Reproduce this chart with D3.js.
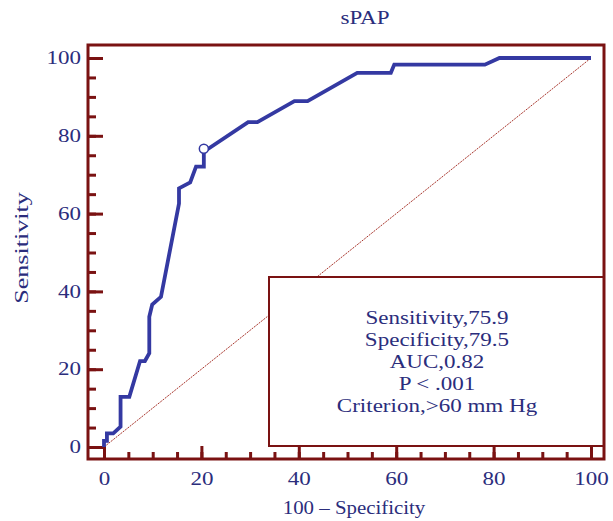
<!DOCTYPE html>
<html><head><meta charset="utf-8">
<script src="https://cdn.jsdelivr.net/npm/d3@7"></script>
<style>body{margin:0;background:#fff}</style>
</head><body><svg id="c" width="613" height="521"></svg>
<script>
// ROC curve points: 100 - Specificity (x), Sensitivity (y)
const fpr = [0, 0, 0.6, 0.6, 1.9, 3.4, 3.4, 5.2, 7.4, 8.4, 9.3, 9.3, 9.9, 11.7, 15.4, 15.4, 17.7, 18.9, 20.5, 20.5, 29.6, 31.5, 39.1, 41.8, 52, 58.9, 59.6, 78.2, 81.2, 100];
const tpr = [0, 1.6, 1.6, 3.5, 3.5, 5.2, 12.9, 12.9, 22.1, 22.1, 24.1, 33.5, 36.6, 38.6, 62.6, 66.5, 68, 72.1, 72.1, 75.9, 83.5, 83.5, 88.9, 88.9, 96.2, 96.2, 98.3, 98.3, 100, 100];
const cutX = [20.5];
const cutY = [75.9];
const xTicks = [0, 20, 40, 60, 80, 100];
const yTicks = [0, 20, 40, 60, 80, 100];
const legendLines = ["Sensitivity,75.9", "Specificity,79.5", "AUC,0.82", "P < .001", "Criterion,>60 mm Hg"];
const titleText = "sPAP";
const xLabel = "100 \u2013 Specificity";
const yLabel = "Sensitivity";

const frameCol = "#7a1212", textCol = "#2b2d7c", lineCol = "#3439a2";
const font = "'Liberation Serif','Times New Roman',serif";
const SX = 1.28;

const svg = d3.select("#c");
const x = d3.scaleLinear().domain([0, 100]).range([104, 591]);
const y = d3.scaleLinear().domain([0, 100]).range([447, 58]);

// title
svg.append("text").attr("transform", `translate(365,24) scale(${SX},1)`)
  .attr("text-anchor", "middle").attr("font-family", font).attr("font-size", 18)
  .attr("fill", textCol).text(titleText);

// diagonal
svg.append("line").attr("x1", x(0)).attr("y1", y(0)).attr("x2", x(100)).attr("y2", y(100))
  .attr("stroke", "#a8352c").attr("stroke-width", 1).attr("stroke-dasharray", "2,1");

// legend box
svg.append("rect").attr("x", 269).attr("y", 277).attr("width", 335).attr("height", 169)
  .attr("fill", "#fff").attr("stroke", frameCol).attr("stroke-width", 2);
const lg = svg.append("g");
legendLines.forEach((t, i) => {
  lg.append("text").attr("transform", `translate(437,${324 + i * 22}) scale(${SX},1)`)
    .attr("text-anchor", "middle").attr("font-family", font).attr("font-size", 18)
    .attr("fill", textCol).text(t);
});

// frame
svg.append("rect").attr("x", 88).attr("y", 45).attr("width", 516).attr("height", 414)
  .attr("fill", "none").attr("stroke", frameCol).attr("stroke-width", 3);

// axes
const minor = d3.range(0, 101, 5);
const gyMinor = svg.append("g").attr("transform", "translate(88,0)")
  .call(d3.axisLeft(y).tickValues(minor).tickSizeInner(-8).tickSizeOuter(0).tickFormat(""));
const gy = svg.append("g").attr("transform", "translate(88,0)")
  .call(d3.axisLeft(y).tickValues(yTicks).tickSizeInner(-15).tickSizeOuter(0).tickPadding(6));
const gxMinor = svg.append("g").attr("transform", "translate(0,459)")
  .call(d3.axisBottom(x).tickValues(minor).tickSizeInner(-7).tickSizeOuter(0).tickFormat(""));
const gx = svg.append("g").attr("transform", "translate(0,459)")
  .call(d3.axisBottom(x).tickValues(xTicks).tickSizeInner(-13).tickSizeOuter(0).tickPadding(13));
[gyMinor, gy, gxMinor, gx].forEach(g => {
  g.select(".domain").remove();
  g.selectAll(".tick line").attr("stroke", frameCol).attr("stroke-width", 3);
  g.selectAll("text").attr("font-family", font).attr("font-size", 18).attr("fill", textCol);
});
gy.selectAll("text").attr("transform", `scale(${SX},1)`).attr("x", -7 / SX);
gx.selectAll("text").attr("transform", `scale(${SX},1)`);

// ROC curve
const pts = fpr.map((d, i) => [d, tpr[i]]);
svg.append("path").datum(pts)
  .attr("d", d3.line().x(d => x(d[0])).y(d => y(d[1])))
  .attr("fill", "none").attr("stroke", lineCol).attr("stroke-width", 3.8)
  .attr("stroke-linejoin", "miter");
svg.selectAll("circle.cut").data(cutX).join("circle").attr("class", "cut")
  .attr("cx", d => x(d)).attr("cy", (d, i) => y(cutY[i]) - 3).attr("r", 4.5)
  .attr("fill", "#fff").attr("stroke", lineCol).attr("stroke-width", 1.5);

// axis titles
svg.append("text").attr("transform", `translate(354,514) scale(1.16,1)`)
  .attr("text-anchor", "middle").attr("font-family", font).attr("font-size", 18)
  .attr("fill", textCol).text(xLabel);
svg.append("text").attr("transform", "translate(28,248) rotate(-90) scale(1.45,1)")
  .attr("text-anchor", "middle").attr("font-family", font).attr("font-size", 18)
  .attr("fill", textCol).text(yLabel);
</script></body></html>
